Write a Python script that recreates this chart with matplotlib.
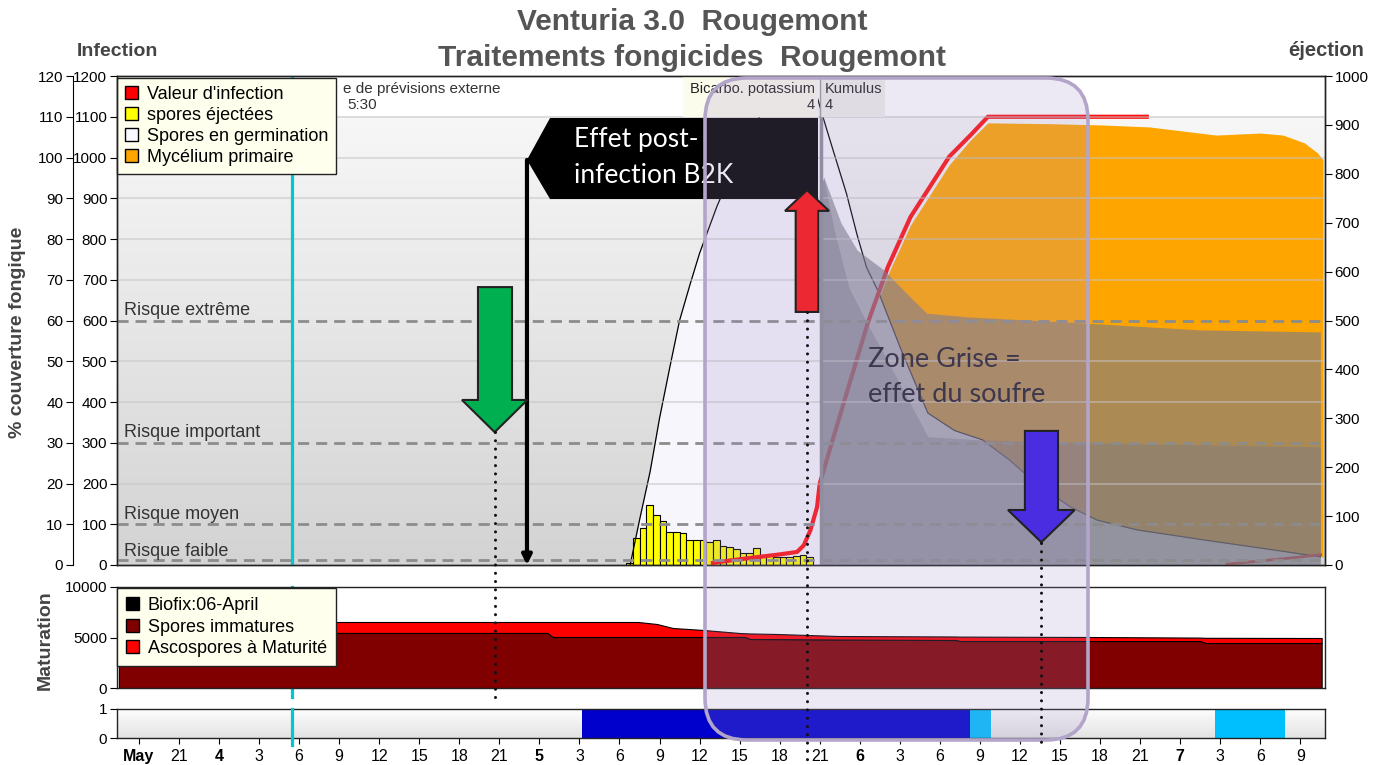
import numpy as np
import matplotlib.pyplot as plt
import matplotlib.transforms as mtransforms
from matplotlib.colors import LinearSegmentedColormap
from matplotlib.lines import Line2D
from matplotlib.patches import FancyBboxPatch, Patch, Polygon, Rectangle

plt.rcParams['font.family'] = ['Liberation Sans', 'DejaVu Sans']
plt.rcParams['font.size'] = 11
NOTE_FONT = ['Lato', 'DejaVu Sans']

# time axis: hours counted from 4 May 00:00
tick_hours = list(range(-6, 82, 3))
tick_labels = ['May', '21', '4', '3', '6', '9', '12', '15', '18', '21',
               '5', '3', '6', '9', '12', '15', '18', '21',
               '6', '3', '6', '9', '12', '15', '18', '21',
               '7', '3', '6', '9']
bold_hours = [-6, 0, 24, 48, 72]

# spores en germination (infection scale)
germ_h = [30.8, 31.5, 32.3, 33.0, 33.8, 34.5, 35.3, 36.0, 37.3, 39.0, 40.5, 42.4,
          43.5, 44.4, 45.2, 46.0, 47.0, 47.8, 48.5, 49.4, 51.1, 53.1, 55.1, 57.2,
          59.2, 61.2, 63.8, 65.8, 68.8, 73.9, 79.0, 82.5]
germ_v = [0, 110, 230, 360, 490, 600, 690, 765, 880, 1010, 1100, 1180,
          1225, 1195, 1104, 1018, 912, 810, 731, 670, 528, 373, 330, 307,
          258, 201, 142, 110, 86, 61, 37, 20]

# spores ejectees, half-hour bars (ejection scale 0-1000)
ej_start = 30.5
ej_v = [5, 55, 76, 123, 102, 90, 68, 68, 65, 51, 51, 51, 47, 51,
        39, 37, 33, 25, 25, 35, 20, 20, 16, 16, 16, 18, 20, 16]

# valeur d'infection (infection scale)
inf_h = [37.0, 38.5, 40.5, 42.0, 43.3, 43.8, 44.3, 44.8, 45.0, 46.8, 48.6,
         50.1, 51.8, 54.7, 56.3, 57.6, 69.5]
inf_v = [5, 12, 20, 26, 32, 48, 85, 142, 200, 398, 594,
         731, 854, 1002, 1055, 1100, 1100]
inf2_h = [75.5, 78.0, 80.5, 82.5]
inf2_v = [2, 10, 18, 25]

# mycelium primaire (% couverture)
myc_h = [45.4, 46.8, 48.6, 50.1, 51.8, 54.7, 56.3, 57.6, 62.2, 66.0, 69.7,
         74.7, 78.0, 79.7, 81.3, 82.3, 82.7]
myc_pct = [0, 37, 57.7, 71.2, 83.4, 98.2, 104.3, 108.5, 108.3, 108.0, 107.5,
           105.5, 106.0, 105.5, 103.6, 101.1, 99.4]

# zone grise (effet du soufre), % couverture
gray1_h = [45.2, 45.3, 46.6, 47.8, 49.8, 51.4, 53.0, 56.0, 64.7, 73.5, 82.5]
gray1_pct = [94, 95.2, 83.9, 77.3, 72.4, 67.0, 61.8, 60.9, 59.4, 57.7, 57.2]
gray2_h = [45.2, 45.3, 46.1, 47.2, 48.6, 50.1, 51.4, 53.1, 57.2, 65.0, 74.0, 82.5]
gray2_pct = [94, 95, 82, 68, 59, 50, 42, 31.5, 30.7, 30.0, 29.5, 29.0]

# maturation
mat_h = [-7.5, 24.6, 25.0, 31.4, 32.8, 34.0, 36.3, 39.0, 39.4, 39.8, 41.8,
         46.4, 55.2, 55.5, 65.0, 73.5, 73.9, 82.6]
mat_immature = [5450, 5450, 5050, 5050, 5050, 5050, 5050, 5050, 5050, 4850, 4840,
                4800, 4750, 4650, 4650, 4650, 4455, 4455]
mat_mature = [1085, 1085, 1485, 1485, 1287, 890, 693, 396, 370, 550, 507,
              349, 350, 440, 400, 340, 515, 495]

# wetness / treatment band
band_start = [27.2, 56.25, 74.6]
band_end = [56.25, 57.8, 79.85]
band_color = ['#0000cc', '#00bfff', '#00bfff']

risk_levels = [12, 100, 300, 600]
risk_names = ['Risque faible', 'Risque moyen', 'Risque important', 'Risque extrême']

cyan_h = 5.5
treat_h = 45.0

W, H = 1385, 765
fig = plt.figure(figsize=(W / 100, H / 100), dpi=100)
L, WD = 117 / W, 1208 / W
ax = fig.add_axes([L, 1 - 565 / H, WD, 489 / H])
axm = fig.add_axes([L, 1 - 688 / H, WD, 101 / H], sharex=ax)
axb = fig.add_axes([L, 1 - 738 / H, WD, 29 / H], sharex=ax)
xlim = (-7.64, 82.85)

# ---------------- main panel ----------------
grad = np.linspace(0, 1, 256)[:, None]
ax.imshow(grad, extent=[xlim[0], xlim[1], 0, 1100], origin='lower', aspect='auto',
          cmap=LinearSegmentedColormap.from_list('bg', ['#d3d3d3', '#f7f7f7']), zorder=0)
ax.fill_between(germ_h, 0, germ_v, color='#f6f6fc', lw=0, zorder=1)

hh = np.linspace(myc_h[0], myc_h[-1], 800)
myc_top = np.interp(hh, myc_h, myc_pct) * 10
germ_bot = np.interp(hh, germ_h, germ_v)
ax.fill_between(hh, germ_bot, myc_top, where=myc_top > germ_bot, interpolate=True,
                color='#ffa500', lw=0, zorder=2)

ej_h = ej_start + 0.5 * np.arange(len(ej_v))
ax.bar(ej_h, np.array(ej_v) * 1.2, width=0.5, align='edge', color='#ffff00',
       edgecolor='black', lw=0.8, zorder=2.5)
ax.plot(germ_h, germ_v, color='black', lw=0.9, zorder=3)
ax.plot(inf_h, inf_v, color='#ff1010', lw=3, zorder=3.2)
ax.plot(inf2_h, inf2_v, color='#ff1010', lw=2, zorder=3.2)

ax.fill_between(gray1_h, 0, np.array(gray1_pct) * 10, color='#7a7a88', alpha=0.62,
                lw=0, zorder=4)
ax.fill_between(gray2_h, 0, np.array(gray2_pct) * 10, color='#7a7a88', alpha=0.45,
                lw=0, zorder=4.1)

for v in range(100, 1200, 100):
    if v not in risk_levels:
        ax.axhline(v, color='#c4c4c4', lw=1.2, alpha=0.6, zorder=4.5)
for lev, name in zip(risk_levels, risk_names):
    ax.axhline(lev, color='#8c8c8c', lw=2, dashes=(4, 2.5), zorder=5)
    ax.text(-7.1, lev + (10 if lev == 12 else 14), name, fontsize=13, color='#333333',
            va='baseline', ha='left', zorder=7)

ax.axvline(cyan_h, color='#00c8d2', lw=2.3, zorder=5)

# treatments strip
ax.add_patch(Rectangle((34.76, 1100), treat_h - 0.13 - 34.76, 100, fc='#fcfcec', ec='none', zorder=6))
ax.add_patch(Rectangle((treat_h, 1100), 4.9, 100, fc='#f0f0ea', ec='none', zorder=6))
ax.axvline(treat_h + 0.05, ymin=1100 / 1200, color='#999999', lw=1, zorder=6.5)
ax.axvline(treat_h + 0.1, ymax=1100 / 1200, color='#8e8e98', lw=2.5, zorder=5)
ax.text(treat_h - 0.35, 1168, 'Bicarbo. potassium', ha='right', va='center', fontsize=10.5,
        color='#222222', zorder=7)
ax.text(treat_h - 0.35, 1128, '4', ha='right', va='center', fontsize=10.5, color='#222222', zorder=7)
ax.text(treat_h + 0.4, 1168, 'Kumulus', ha='left', va='center', fontsize=10.5, color='#222222', zorder=7)
ax.text(treat_h + 0.4, 1128, '4', ha='left', va='center', fontsize=10.5, color='#222222', zorder=7)
ax.text(9.29, 1168, 'e de prévisions externe', ha='left', va='center', fontsize=11,
        color='#333333', zorder=7)
ax.text(9.59, 1128, '5:30', ha='left', va='center', fontsize=11, color='#333333', zorder=7)

# callout "Effet post-infection"
ax.add_patch(Polygon([(23.07, 994), (24.8, 1097), (44.87, 1097), (44.87, 898), (24.8, 898)],
                     closed=True, fc='black', ec='none', zorder=7))
ax.text(26.6, 1043, 'Effet post-', color='white', fontsize=19, family=NOTE_FONT,
        va='center', ha='left', zorder=8)
ax.text(26.6, 955, 'infection B2K', color='white', fontsize=19, family=NOTE_FONT,
        va='center', ha='left', zorder=8)
ax.annotate('', xy=(23.07, 0), xytext=(23.07, 994),
            arrowprops=dict(arrowstyle='-|>', lw=3, color='black', mutation_scale=14,
                            shrinkA=0, shrinkB=0), zorder=7)
ax.text(48.6, 505, 'Zone Grise =', fontsize=19.5, family=NOTE_FONT, color='#262430',
        va='center', ha='left', zorder=8)
ax.text(48.6, 418, 'effet du soufre', fontsize=19.5, family=NOTE_FONT, color='#262430',
        va='center', ha='left', zorder=8)

ax.set_xlim(xlim)
ax.set_ylim(0, 1200)
ax.set_yticks(range(0, 1201, 100))
ax.tick_params(axis='y', length=5, pad=2, labelsize=11)
ax.tick_params(axis='x', bottom=False, labelbottom=False)

sec = ax.secondary_yaxis(-44 / 1208, functions=(lambda v: v / 10, lambda p: p * 10))
sec.set_yticks(range(0, 121, 10))
sec.tick_params(length=5, pad=2, labelsize=11)

axr = ax.twinx()
axr.set_ylim(0, 1000)
axr.set_yticks(range(0, 1001, 100))
axr.tick_params(length=5, pad=2, labelsize=11)

leg = ax.legend(handles=[Patch(fc='#ff0000', ec='black', label="Valeur d'infection"),
                         Patch(fc='#ffff00', ec='black', label='spores éjectées'),
                         Patch(fc='#f8f8ff', ec='black', label='Spores en germination'),
                         Patch(fc='#ffa500', ec='black', label='Mycélium primaire')],
                loc='upper left', bbox_to_anchor=(0.0, 0.996), borderaxespad=0,
                fontsize=13, fancybox=False, framealpha=1, handlelength=0.7,
                handleheight=0.7, handletextpad=0.5, labelspacing=0.22, borderpad=0.45)
leg.get_frame().set_facecolor('#ffffee')
leg.get_frame().set_edgecolor('#222222')
leg.set_zorder(20)

# ---------------- maturation panel ----------------
axm.stackplot(mat_h, mat_immature, mat_mature, colors=['#800000', '#ff0000'],
              edgecolor='black', lw=0.8, zorder=2)
axm.axvline(cyan_h, ymin=-0.09, ymax=1, color='#00c8d2', lw=2.3, clip_on=False, zorder=1)
axm.set_ylim(0, 10000)
axm.set_yticks([0, 5000, 10000])
axm.tick_params(axis='y', length=5, pad=2, labelsize=11)
axm.tick_params(axis='x', bottom=False, labelbottom=False)
leg2 = axm.legend(handles=[Patch(fc='black', ec='black', label='Biofix:06-April'),
                           Patch(fc='#800000', ec='black', label='Spores immatures'),
                           Patch(fc='#ff0000', ec='black', label='Ascospores à Maturité')],
                  loc='upper left', bbox_to_anchor=(0.0, 0.99), borderaxespad=0,
                  fontsize=13, fancybox=False, framealpha=1, handlelength=0.7,
                  handleheight=0.7, handletextpad=0.5, labelspacing=0.25, borderpad=0.5)
leg2.get_frame().set_facecolor('#ffffee')
leg2.get_frame().set_edgecolor('#222222')
leg2.set_zorder(20)

# ---------------- band panel ----------------
axb.imshow(grad, extent=[xlim[0], xlim[1], 0, 1], origin='lower', aspect='auto',
           cmap=LinearSegmentedColormap.from_list('bg2', ['#e2e2e2', '#ffffff']), zorder=0)
for s, e, c in zip(band_start, band_end, band_color):
    axb.bar(s, 1, width=e - s, align='edge', color=c, lw=0, zorder=2)
axb.axvline(cyan_h, ymin=-0.25, ymax=1, color='#00c8d2', lw=2.3, clip_on=False, zorder=3)
axb.set_xlim(xlim)
axb.set_ylim(0, 1)
axb.set_yticks([0, 1])
axb.set_xticks(tick_hours, tick_labels)
for lab, h in zip(axb.get_xticklabels(), tick_hours):
    if h in bold_hours:
        lab.set_fontweight('bold')
axb.tick_params(axis='x', length=4, pad=4, labelsize=11.5)
axb.tick_params(axis='y', length=5, pad=2, labelsize=11)

for a in (ax, axm, axb, axr):
    for sp in a.spines.values():
        sp.set_linewidth(1)
        sp.set_color('#222222')

# ---------------- overlays ----------------
fig.add_artist(FancyBboxPatch((7.05, 0.25), 3.83, 6.62,
                              boxstyle='round,pad=0,rounding_size=0.42',
                              transform=fig.dpi_scale_trans,
                              fc=(160 / 255, 140 / 255, 200 / 255, 0.2),
                              ec='#b3a5c9', lw=2.6, zorder=2))

arrow_green = [(19.4, 682), (21.95, 682), (21.95, 405), (23.1, 405), (20.65, 326),
               (18.2, 405), (19.4, 405)]
arrow_red = [(43.2, 621), (44.9, 621), (44.9, 869), (45.7, 869), (44.05, 920),
             (42.4, 869), (43.2, 869)]
arrow_blue = [(60.37, 329), (62.85, 329), (62.85, 135), (64.1, 135), (61.6, 56),
              (59.1, 135), (60.37, 135)]
for pts, col in [(arrow_green, '#00b050'), (arrow_red, '#ec2833'), (arrow_blue, '#4a2de0')]:
    fig.add_artist(Polygon(pts, closed=True, fc=col, ec='#222222', lw=1.5,
                           transform=ax.transData, zorder=3))

blend = mtransforms.blended_transform_factory(ax.transData, fig.transFigure)
for h, y0, y1 in [(20.65, 432, 697), (44.05, 312, 760), (61.6, 543, 742)]:
    fig.add_artist(Line2D([h, h], [1 - y0 / H, 1 - y1 / H], transform=blend,
                          color='#111111', lw=2.2, dashes=(0.01, 2.7),
                          dash_capstyle='round', zorder=3))

# ---------------- titles and labels ----------------
fig.text(0.5, 1 - 22 / H, 'Venturia 3.0  Rougemont', ha='center', va='center',
         fontsize=21.5, fontweight='bold', color='#555555')
fig.text(0.5, 1 - 58 / H, 'Traitements fongicides  Rougemont', ha='center', va='center',
         fontsize=21.5, fontweight='bold', color='#555555')
fig.text(117 / W, 1 - 51 / H, 'Infection', ha='center', va='center', fontsize=14,
         fontweight='bold', color='#444444')
fig.text(1326 / W, 1 - 51 / H, 'éjection', ha='center', va='center', fontsize=14.5,
         fontweight='bold', color='#444444')
fig.text(18 / W, 1 - 332 / H, '% couverture fongique', rotation=90, ha='center',
         va='center', fontsize=14, fontweight='bold', color='#444444')
fig.text(45 / W, 1 - 640 / H, 'Maturation', rotation=90, ha='center', va='center',
         fontsize=14, fontweight='bold', color='#444444')

fig.savefig('out.png', dpi=100, facecolor='white')
